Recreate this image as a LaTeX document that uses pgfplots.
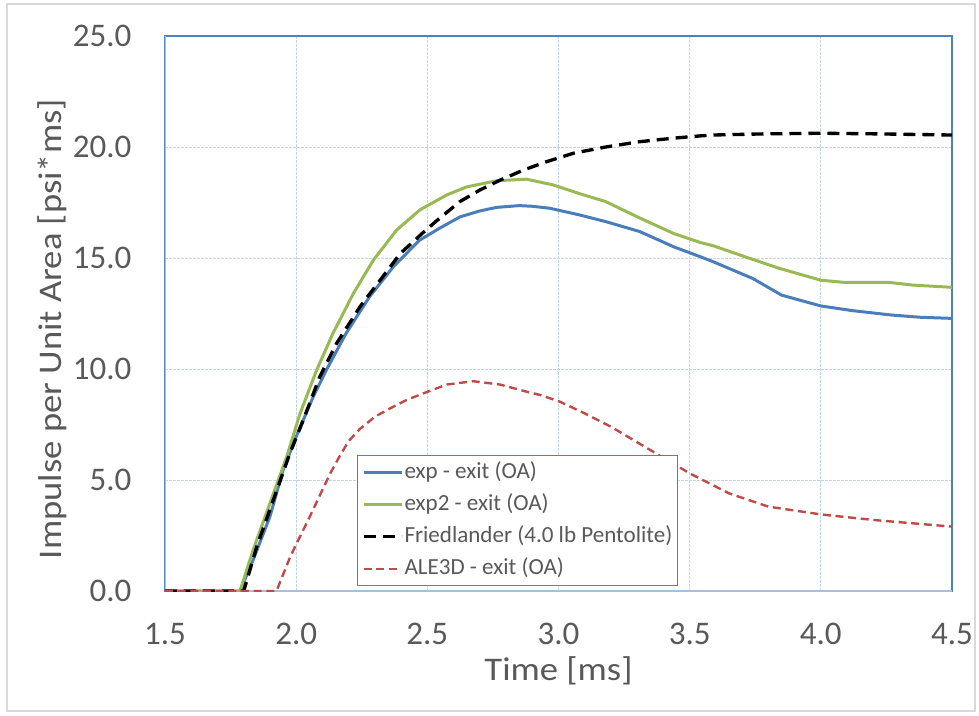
\documentclass[border=0pt]{standalone}
\usepackage{pgfplots}
\pgfplotsset{compat=1.18}
\usepackage{fontspec}
\setmainfont{Carlito}
\definecolor{txt}{HTML}{595959}
\definecolor{axblue}{HTML}{4F81BD}
\definecolor{axlight}{HTML}{A7BFDE}
\definecolor{gridc}{HTML}{C3D4EA}
\definecolor{cblue}{HTML}{4A7EBB}
\definecolor{cgreen}{HTML}{98B954}
\definecolor{cred}{HTML}{BE4B48}
\definecolor{framec}{HTML}{D9D9D9}

\pgfplotstableread{
x y
1.5 0
1.786 0
1.836 1.4
1.90 3.35
1.95 5.45
2.0 6.95
2.065 8.75
2.115 9.95
2.19 11.6
2.28 13.26
2.37 14.6
2.47 15.8
2.548 16.35
2.624 16.85
2.70 17.12
2.764 17.28
2.85 17.36
2.90 17.33
2.967 17.24
3.08 16.94
3.18 16.64
3.31 16.19
3.44 15.5
3.54 15.06
3.59 14.83
3.74 14.08
3.85 13.33
3.92 13.1
4.0 12.84
4.12 12.63
4.27 12.43
4.38 12.33
4.5 12.28
}\expdata

\pgfplotstableread{
x y
1.5 0
1.786 0
1.836 1.85
1.90 3.95
1.964 6.05
2.015 8.0
2.078 9.95
2.14 11.6
2.218 13.4
2.294 14.9
2.383 16.26
2.472 17.17
2.574 17.84
2.649 18.2
2.764 18.48
2.878 18.55
2.98 18.29
3.08 17.9
3.18 17.54
3.31 16.8
3.44 16.1
3.54 15.7
3.59 15.55
3.71 15.06
3.84 14.54
4.0 14.0
4.09 13.9
4.26 13.9
4.35 13.78
4.5 13.68
}\exptwodata

\pgfplotstableread{
x y
1.5 0
1.80 0
1.85 2.0
1.913 4.1
1.976 6.2
2.027 7.7
2.09 9.65
2.154 11.15
2.243 12.8
2.32 14.0
2.397 15.2
2.498 16.3
2.548 16.8
2.624 17.54
2.70 18.06
2.776 18.5
2.866 18.96
2.955 19.34
3.057 19.72
3.18 20.0
3.31 20.24
3.44 20.4
3.54 20.5
3.59 20.54
3.78 20.59
4.0 20.62
4.22 20.59
4.5 20.54
}\frieddata

\pgfplotstableread{
x y
1.5 0
1.925 0
1.976 1.5
2.0 2.1
2.05 3.3
2.09 4.3
2.13 5.3
2.167 6.1
2.2 6.75
2.243 7.3
2.3 7.85
2.37 8.3
2.42 8.6
2.484 8.9
2.574 9.3
2.675 9.45
2.777 9.3
2.878 8.98
2.93 8.83
3.005 8.53
3.1 8.0
3.2 7.4
3.35 6.35
3.5 5.3
3.65 4.4
3.8 3.8
4.0 3.45
4.2 3.2
4.35 3.05
4.5 2.9
}\aledata

\begin{document}
\begin{tikzpicture}
\useasboundingbox (-123.75pt,-93pt) rectangle (610.5pt,443.25pt);
\draw[framec, line width=1.2pt] (-118.5pt,-90pt) rectangle (607.5pt,440.25pt);
\begin{axis}[
  at={(0,0)}, anchor=south west,
  width=590.25pt, height=416.25pt, scale only axis,
  xmin=1.5, xmax=4.5, ymin=0, ymax=25,
  xtick={1.5,2.0,2.5,3.0,3.5,4.0,4.5},
  ytick={0,5,10,15,20,25},
  grid=major,
  major grid style={gridc, line width=0.75pt, dash pattern=on 2.25pt off 0.75pt},
  major tick length=0pt,
  axis line style={axblue, line width=1.5pt},
  tick label style={font=\fontsize{24.75}{28}\selectfont, text=txt},
  /pgf/number format/.cd, fixed, fixed zerofill, precision=1, assume math mode=true, /pgfplots/.cd,
  xticklabel style={anchor=north, inner sep=0pt, yshift=-24pt},
  yticklabel style={anchor=east, inner sep=0pt, xshift=-25pt},
  xlabel={\scalebox{1.11}[1]{Time [ms]}},
  ylabel={\scalebox{1.11}[1]{Impulse per Unit Area [psi*ms]}},
  label style={font=\fontsize{24.75}{28}\selectfont, text=txt},
  xlabel style={at={(axis description cs:0.5,0)}, anchor=base, yshift=-66.75pt},
  ylabel style={at={(axis description cs:-0.1309,0.472)}, anchor=base},
  legend style={at={(rel axis cs:0.2443,0.2450)}, anchor=north west, draw=axblue, line width=0.9pt, fill=white,
    font=\fontsize{17.3}{20}\selectfont, text=txt, inner xsep=3pt, inner ysep=3pt, row sep=5.4pt,
    nodes={inner sep=1pt, text height=12.8pt, text depth=4pt}},
  legend cell align=left,
  legend image code/.code={\draw[#1] (0pt,0pt) -- (28.5pt,0pt);},
]
\draw[axlight, line width=1.5pt] (rel axis cs:0,1) -- (rel axis cs:0,0) -- (rel axis cs:1,0);
\addplot[cblue, line width=2.25pt, line join=round] table {\expdata};
\addlegendentry{exp - exit (OA)}
\addplot[cgreen, line width=2.25pt, line join=round] table {\exptwodata};
\addlegendentry{exp2 - exit (OA)}
\addplot[black, line width=2.5pt, dash pattern=on 9pt off 5.25pt] table {\frieddata};
\addlegendentry{Friedlander (4.0 lb Pentolite)}
\addplot[cred, line width=1.8pt, dash pattern=on 6pt off 3.5pt] table {\aledata};
\addlegendentry{ALE3D - exit (OA)}
\end{axis}
\end{tikzpicture}
\end{document}
